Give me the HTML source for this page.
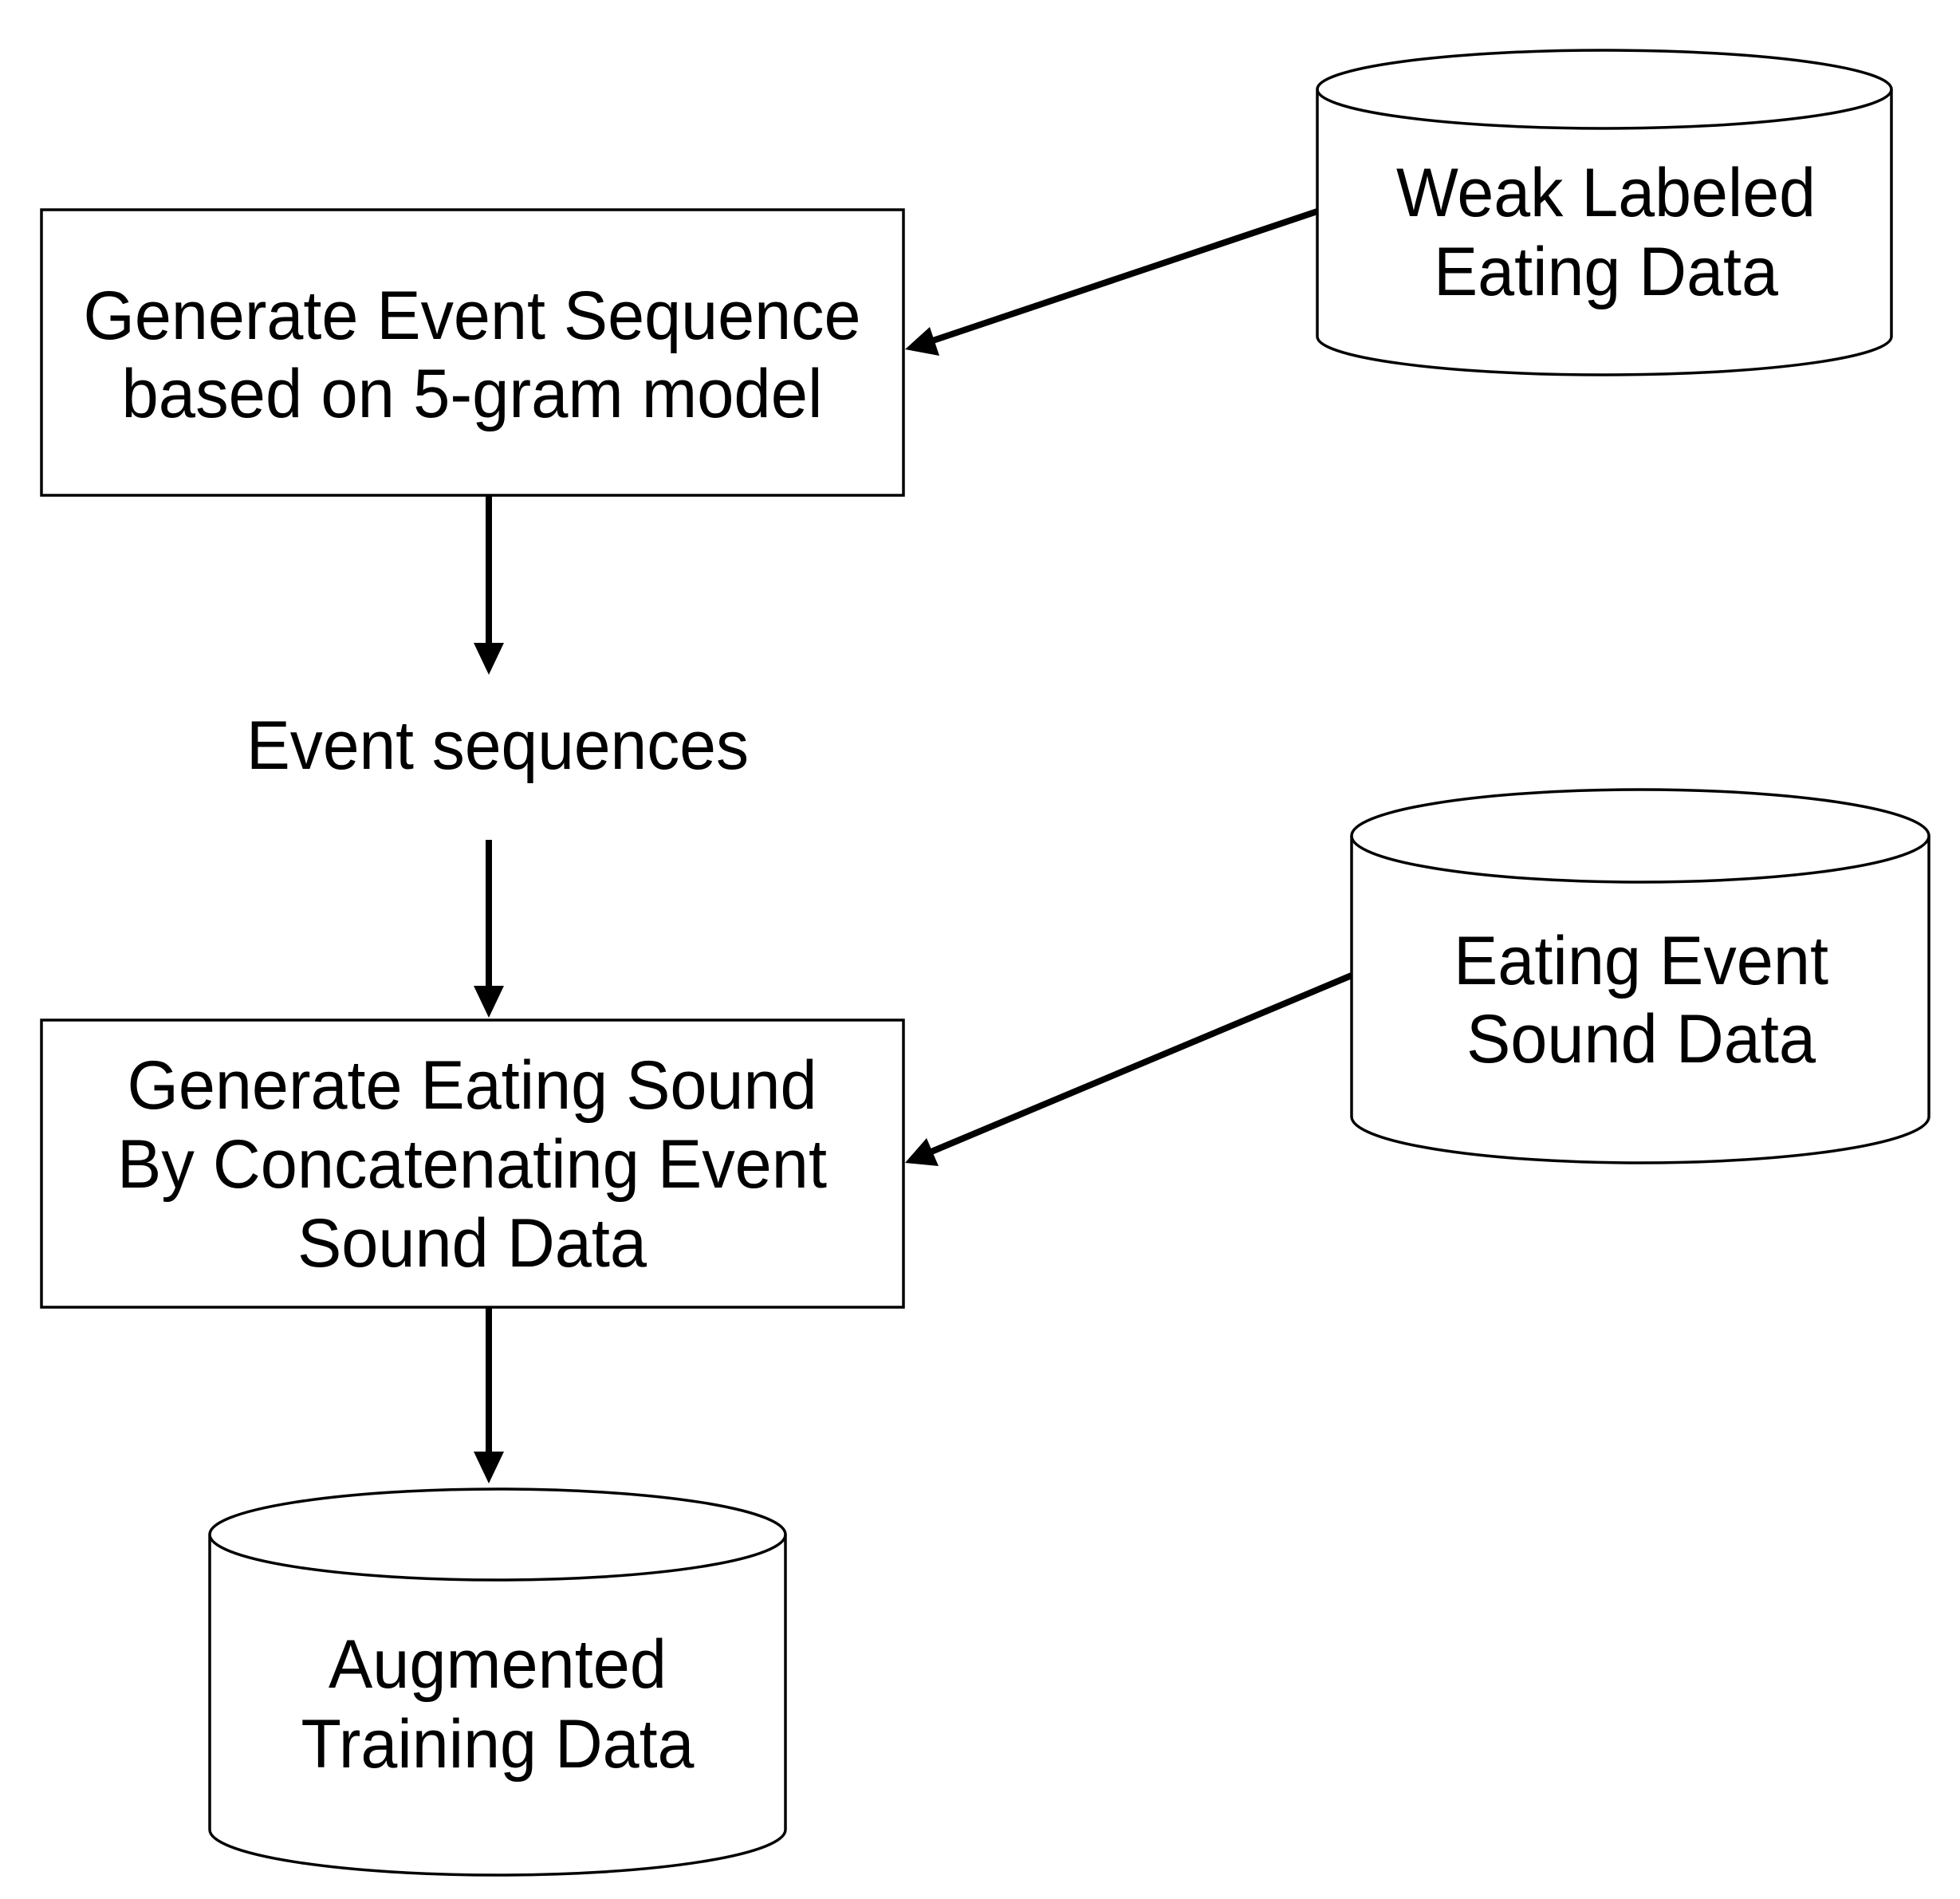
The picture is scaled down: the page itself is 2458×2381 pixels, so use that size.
<!DOCTYPE html>
<html><head><meta charset="utf-8"><style>html,body{margin:0;padding:0;background:#fff}svg{display:block}</style></head>
<body>
<svg width="2458" height="2381" viewBox="0 0 2458 2381" xmlns="http://www.w3.org/2000/svg" font-family="Liberation Sans, Arial, sans-serif" font-size="86" text-anchor="middle" fill="#000">
<g fill="#fff" stroke="#000" stroke-width="3.5">
<rect x="52" y="263" width="1081" height="358"/>
<rect x="52" y="1279" width="1081" height="360"/>
<path d="M1652 112 V422 A360 48 0 0 0 2372 422 V112"/>
<ellipse cx="2012" cy="112" rx="360" ry="49"/>
<path d="M1695 1048 V1400 A362 58 0 0 0 2419 1400 V1048"/>
<ellipse cx="2057" cy="1048" rx="362" ry="58"/>
<path d="M263 1924 V2294 A361 57 0 0 0 985 2294 V1924"/>
<ellipse cx="624" cy="1924" rx="361" ry="57"/>
</g>
<g stroke="#000" stroke-width="8" fill="none">
<line x1="1652" y1="265" x2="1170" y2="427"/>
<line x1="1695" y1="1223" x2="1168" y2="1444"/>
<line x1="613" y1="621" x2="613" y2="810"/>
<line x1="613" y1="1053" x2="613" y2="1240"/>
<line x1="613" y1="1639" x2="613" y2="1824"/>
</g>
<g fill="#000">
<polygon points="1135,438 1166,410 1178,446"/>
<polygon points="1135,1458 1162,1427 1177,1462"/>
<polygon points="613,846 594,806 632,806"/>
<polygon points="613,1276 594,1236 632,1236"/>
<polygon points="613,1860 594,1820 632,1820"/>
</g>
<g lengthAdjust="spacingAndGlyphs">
<text x="592" y="425" textLength="975" lengthAdjust="spacingAndGlyphs">Generate Event Sequence</text>
<text x="592" y="523" textLength="879" lengthAdjust="spacingAndGlyphs">based on 5-gram model</text>
<text x="2014" y="271" textLength="526" lengthAdjust="spacingAndGlyphs">Weak Labeled</text>
<text x="2014" y="370" textLength="432" lengthAdjust="spacingAndGlyphs">Eating Data</text>
<text x="624" y="964" textLength="630" lengthAdjust="spacingAndGlyphs">Event sequences</text>
<text x="592" y="1390" textLength="865" lengthAdjust="spacingAndGlyphs">Generate Eating Sound</text>
<text x="592" y="1489" textLength="890" lengthAdjust="spacingAndGlyphs">By Concatenating Event</text>
<text x="592" y="1588" textLength="438" lengthAdjust="spacingAndGlyphs">Sound Data</text>
<text x="2058" y="1234" textLength="470" lengthAdjust="spacingAndGlyphs">Eating Event</text>
<text x="2058" y="1332" textLength="438" lengthAdjust="spacingAndGlyphs">Sound Data</text>
<text x="624" y="2116" textLength="424" lengthAdjust="spacingAndGlyphs">Augmented</text>
<text x="624" y="2216" textLength="493" lengthAdjust="spacingAndGlyphs">Training Data</text>
</g>
</svg>
</body></html>
